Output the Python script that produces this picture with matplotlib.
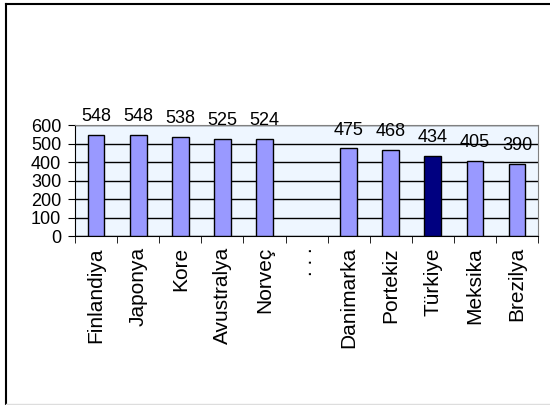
from matplotlib import pyplot as plt
from matplotlib.lines import Line2D
import numpy as np

countries = ["Finlandiya", "Japonya", "Kore", "Avustralya", "Norveç", ". . .",
             "Danimarka", "Portekiz", "Türkiye", "Meksika", "Brezilya"]
scores = [548, 548, 538, 525, 524, None, 475, 468, 434, 405, 390]
highlight = "Türkiye"

plt.rcParams['font.family'] = ['Liberation Sans', 'DejaVu Sans']

fig = plt.figure(figsize=(5.5, 4.05), dpi=100)
ax = fig.add_axes([0.1364, 0.417, 0.842, 0.274])

x = np.arange(len(countries))
heights = [0 if s is None else s for s in scores]
colors = ['#000080' if c == highlight else '#9999FF' for c in countries]
bars = ax.bar(x, heights, width=0.4, color=colors, edgecolor='black', linewidth=1, zorder=3)
for b, s in zip(bars, scores):
    if s is None:
        b.set_visible(False)
        continue
    ax.annotate(str(s), (b.get_x() + b.get_width() / 2, s), xytext=(0, 7),
                textcoords='offset points', ha='center', va='bottom', fontsize=13)

ax.set_facecolor('#EEF6FF')
ax.set_xlim(-0.5, len(countries) - 0.5)
ax.set_ylim(0, 600)
ax.set_yticks(range(0, 601, 100))
ax.yaxis.grid(True, color='black', linewidth=1, zorder=1)
ax.set_axisbelow(True)

ax.set_xticks(x)
ax.set_xticklabels(countries, rotation=90, fontsize=15)
ax.set_xticks(np.arange(-0.5, len(countries), 1), minor=True)
ax.tick_params(axis='x', which='major', length=0, pad=8)
ax.tick_params(axis='x', which='minor', length=5, direction='out', color='black')
ax.tick_params(axis='y', length=5, direction='out', labelsize=13, pad=5)

for side in ['top', 'right']:
    ax.spines[side].set_color('#808080')
for side in ['left', 'bottom']:
    ax.spines[side].set_color('black')

# outer chart border
fig.add_artist(Line2D([6 / 550, 1], [1 - 4 / 405, 1 - 4 / 405], color='black', lw=1.5, transform=fig.transFigure))
fig.add_artist(Line2D([6 / 550, 6 / 550], [1 - 4 / 405, 1.5 / 405], color='black', lw=1.5, transform=fig.transFigure))
fig.add_artist(Line2D([6 / 550, 1], [1.5 / 405, 1.5 / 405], color='#DDDDDD', lw=1, transform=fig.transFigure))

fig.savefig('out.png', dpi=100)
